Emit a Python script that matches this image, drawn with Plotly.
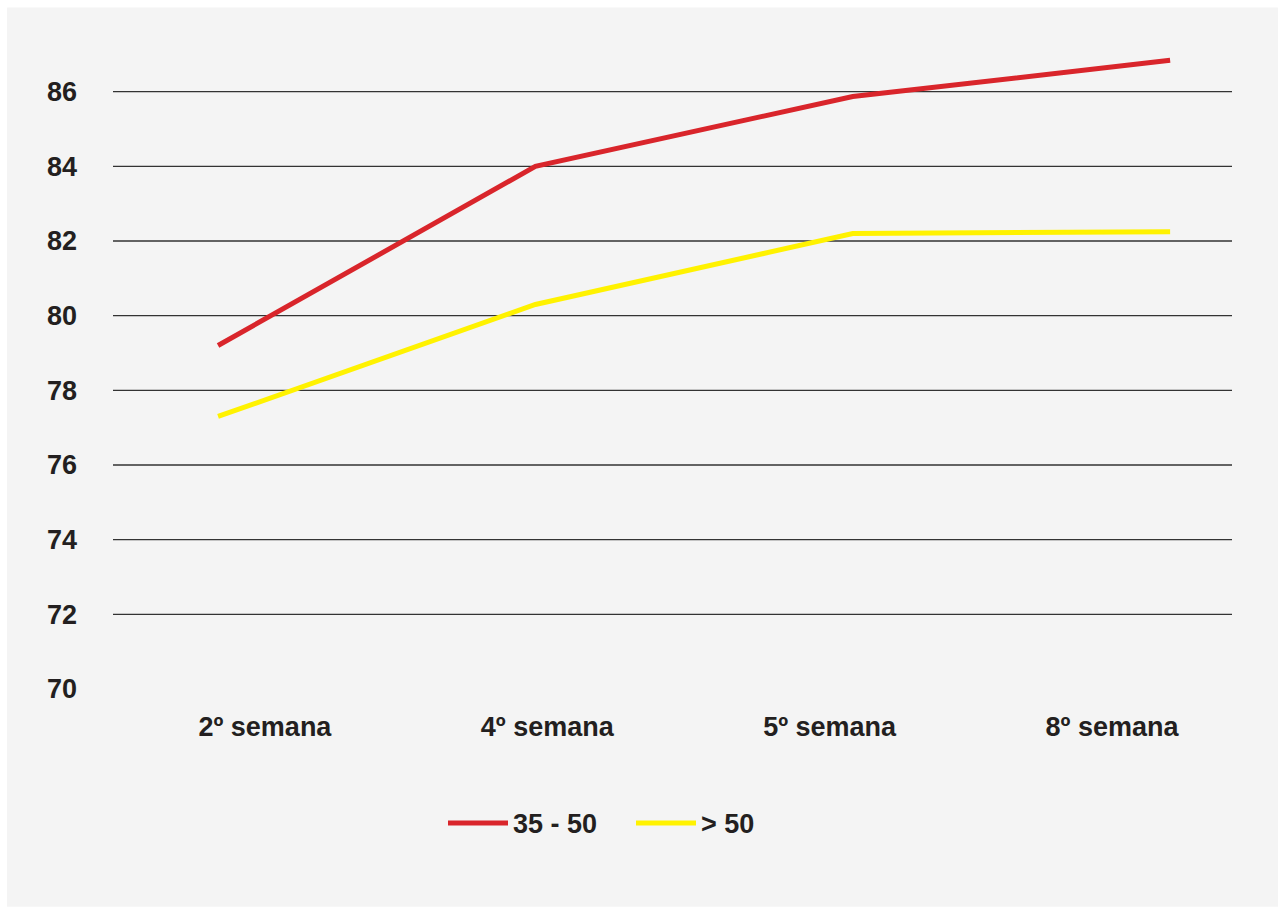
import plotly.graph_objects as go

# Weeks of measurement and the two age groups
semanas = ["2º semana", "4º semana", "5º semana", "8º semana"]
serie_35_50 = [79.2, 84.0, 85.87, 86.84]
serie_mas_50 = [77.3, 80.3, 82.2, 82.25]
nombres = ["35 - 50", "> 50"]
colores = ["#d9252b", "#fff200"]

# Y axis ticks; the grid is drawn for every tick above the baseline
y_ticks = [70, 72, 74, 76, 78, 80, 82, 84, 86]
y_grid = y_ticks[1:]

font_txt = dict(family="Liberation Sans, Arial, sans-serif", size=27,
                color="#231f20", weight="bold")

fig = go.Figure()

for nombre, valores, color in zip(nombres, [serie_35_50, serie_mas_50], colores):
    fig.add_trace(go.Scatter(
        x=semanas, y=valores, name=nombre, mode="lines",
        line=dict(color=color, width=5), xaxis="x", yaxis="y",
    ))

# Invisible trace that carries the category labels on the label axis
fig.add_trace(go.Scatter(
    x=semanas, y=[None] * len(semanas), xaxis="x2", yaxis="y",
    showlegend=False, hoverinfo="skip", mode="lines",
))

shapes = [
    # light grey panel behind the whole chart
    dict(type="rect", xref="paper", yref="paper",
         x0=-0.0947, x1=1.0411, y0=-0.3239, y1=1.014,
         fillcolor="#f4f4f4", line=dict(width=0), layer="below"),
]
for v in y_grid:
    shapes.append(dict(type="line", xref="paper", yref="y",
                       x0=0, x1=1, y0=v, y1=v,
                       line=dict(color="#333333", width=1.4), layer="below"))

fig.update_layout(
    width=1281, height=907,
    margin=dict(l=113, r=49, t=17, b=218),
    paper_bgcolor="white",
    plot_bgcolor="rgba(0,0,0,0)",
    font=font_txt,
    shapes=shapes,
    showlegend=True,
    legend=dict(orientation="h", x=(443 - 113) / 1119, xanchor="left",
                y=-0.2, yanchor="middle", font=font_txt,
                bgcolor="rgba(0,0,0,0)", itemwidth=60, tracegroupgap=0,
                entrywidth=113, entrywidthmode="pixels"),
    xaxis=dict(type="category", range=[-0.331, 3.195], showticklabels=False,
               showgrid=False, zeroline=False, showline=False, ticks=""),
    xaxis2=dict(type="category", overlaying="x", side="bottom",
                range=[-0.538, 3.425], showgrid=False, zeroline=False,
                showline=False, ticks="outside", ticklen=14,
                tickcolor="rgba(0,0,0,0)", tickfont=font_txt),
    yaxis=dict(range=[70, 88], tickvals=y_ticks, showgrid=False,
               zeroline=False, showline=False, ticks="",
               ticklabelstandoff=35, tickfont=font_txt),
)

fig.write_html("out.html")
